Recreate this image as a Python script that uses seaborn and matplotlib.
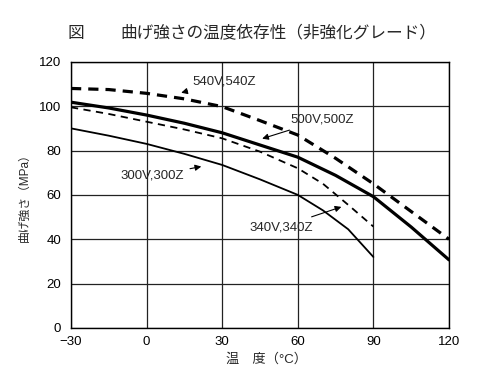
import matplotlib
matplotlib.use("Agg")
import matplotlib.pyplot as plt
import seaborn as sns

sns.set_style("white")
plt.rcParams['font.family'] = ['Liberation Sans', 'Noto Sans CJK JP', 'DejaVu Sans']

# Data
x_540 = [-30, -15, 0, 15, 30, 45, 60, 75, 90, 105, 120]
y_540 = [108, 107.5, 105.8, 103.3, 99.8, 93.5, 87, 76.5, 65, 52.5, 40]
x_500 = [-30, -15, 0, 15, 30, 45, 60, 75, 90, 105, 120]
y_500 = [101.8, 99.2, 96, 92.3, 88, 82.5, 77, 68.8, 59.2, 45.5, 30.7]
x_340 = [-30, -15, 0, 15, 30, 45, 60, 70, 80, 90]
y_340 = [99.5, 96.5, 93, 89.5, 85.5, 79.5, 72, 65, 55.5, 45.7]
x_300 = [-30, -15, 0, 15, 30, 45, 60, 70, 80, 90]
y_300 = [90, 86.7, 83, 78.5, 73.5, 67, 60, 53, 44.5, 32]

x_ticks = [-30, 0, 30, 60, 90, 120]
x_tick_labels = ["\u221230", "0", "30", "60", "90", "120"]
y_ticks = [0, 20, 40, 60, 80, 100, 120]

title_fig = "図"
title_main = "曲げ強さの温度依存性（非強化グレード）"
xlabel = "温　度（°C）"
ylabel = "曲げ強さ（MPa）"

fig = plt.figure(figsize=(5.0, 3.89), dpi=100)
ax = fig.add_axes([0.142, 0.157, 0.756, 0.684])

sns.lineplot(x=x_540, y=y_540, ax=ax, color="black", lw=2.3, linestyle=(0, (3.2, 2.2)))
sns.lineplot(x=x_500, y=y_500, ax=ax, color="black", lw=2.3, linestyle="-")
sns.lineplot(x=x_340, y=y_340, ax=ax, color="black", lw=1.3, linestyle=(0, (4, 3)))
sns.lineplot(x=x_300, y=y_300, ax=ax, color="black", lw=1.3, linestyle="-")

ax.set_xlim(-30, 120)
ax.set_ylim(0, 120)
ax.set_xticks(x_ticks)
ax.set_xticklabels(x_tick_labels)
ax.set_yticks(y_ticks)
ax.tick_params(axis="both", length=0, labelsize=9.5, colors="black")
ax.tick_params(axis="x", pad=6)
ax.tick_params(axis="y", pad=7)
ax.grid(True, color="#222222", lw=0.9)
for s in ax.spines.values():
    s.set_color("black")
    s.set_linewidth(1.0)
ax.set_xlabel("")
ax.set_ylabel("")

fig.text(0.152, 0.915, title_fig, fontsize=12, ha="center", va="center")
fig.text(0.556, 0.915, title_main, fontsize=12, ha="center", va="center")
fig.text(0.534, 0.075, xlabel, fontsize=9.5, ha="center", va="center")
fig.text(0.05, 0.50, ylabel, fontsize=8.5, ha="center", va="center", rotation=90)

ann = dict(arrowstyle="-|>", color="black", lw=0.8, mutation_scale=9)
def px(xp, yp):
    # convert image pixel to figure fraction
    return (xp / 500.0, 1 - yp / 389.0)

ax.annotate("540V,540Z", xy=px(178.5, 93.5), xycoords="figure fraction",
            xytext=px(192, 81), textcoords="figure fraction",
            fontsize=9.5, ha="left", va="center", arrowprops=ann)
ax.annotate("500V,500Z", xy=px(259.5, 139.5), xycoords="figure fraction",
            xytext=px(290, 120), textcoords="figure fraction",
            fontsize=9.5, ha="left", va="center", arrowprops=ann)
ax.annotate("300V,300Z", xy=px(204, 166), xycoords="figure fraction",
            xytext=px(184, 176), textcoords="figure fraction",
            fontsize=9.5, ha="right", va="center", arrowprops=ann)
ax.annotate("340V,340Z", xy=px(344, 206), xycoords="figure fraction",
            xytext=px(313, 227), textcoords="figure fraction",
            fontsize=9.5, ha="right", va="center", arrowprops=ann)

fig.savefig("out.png", dpi=100, facecolor="white")
